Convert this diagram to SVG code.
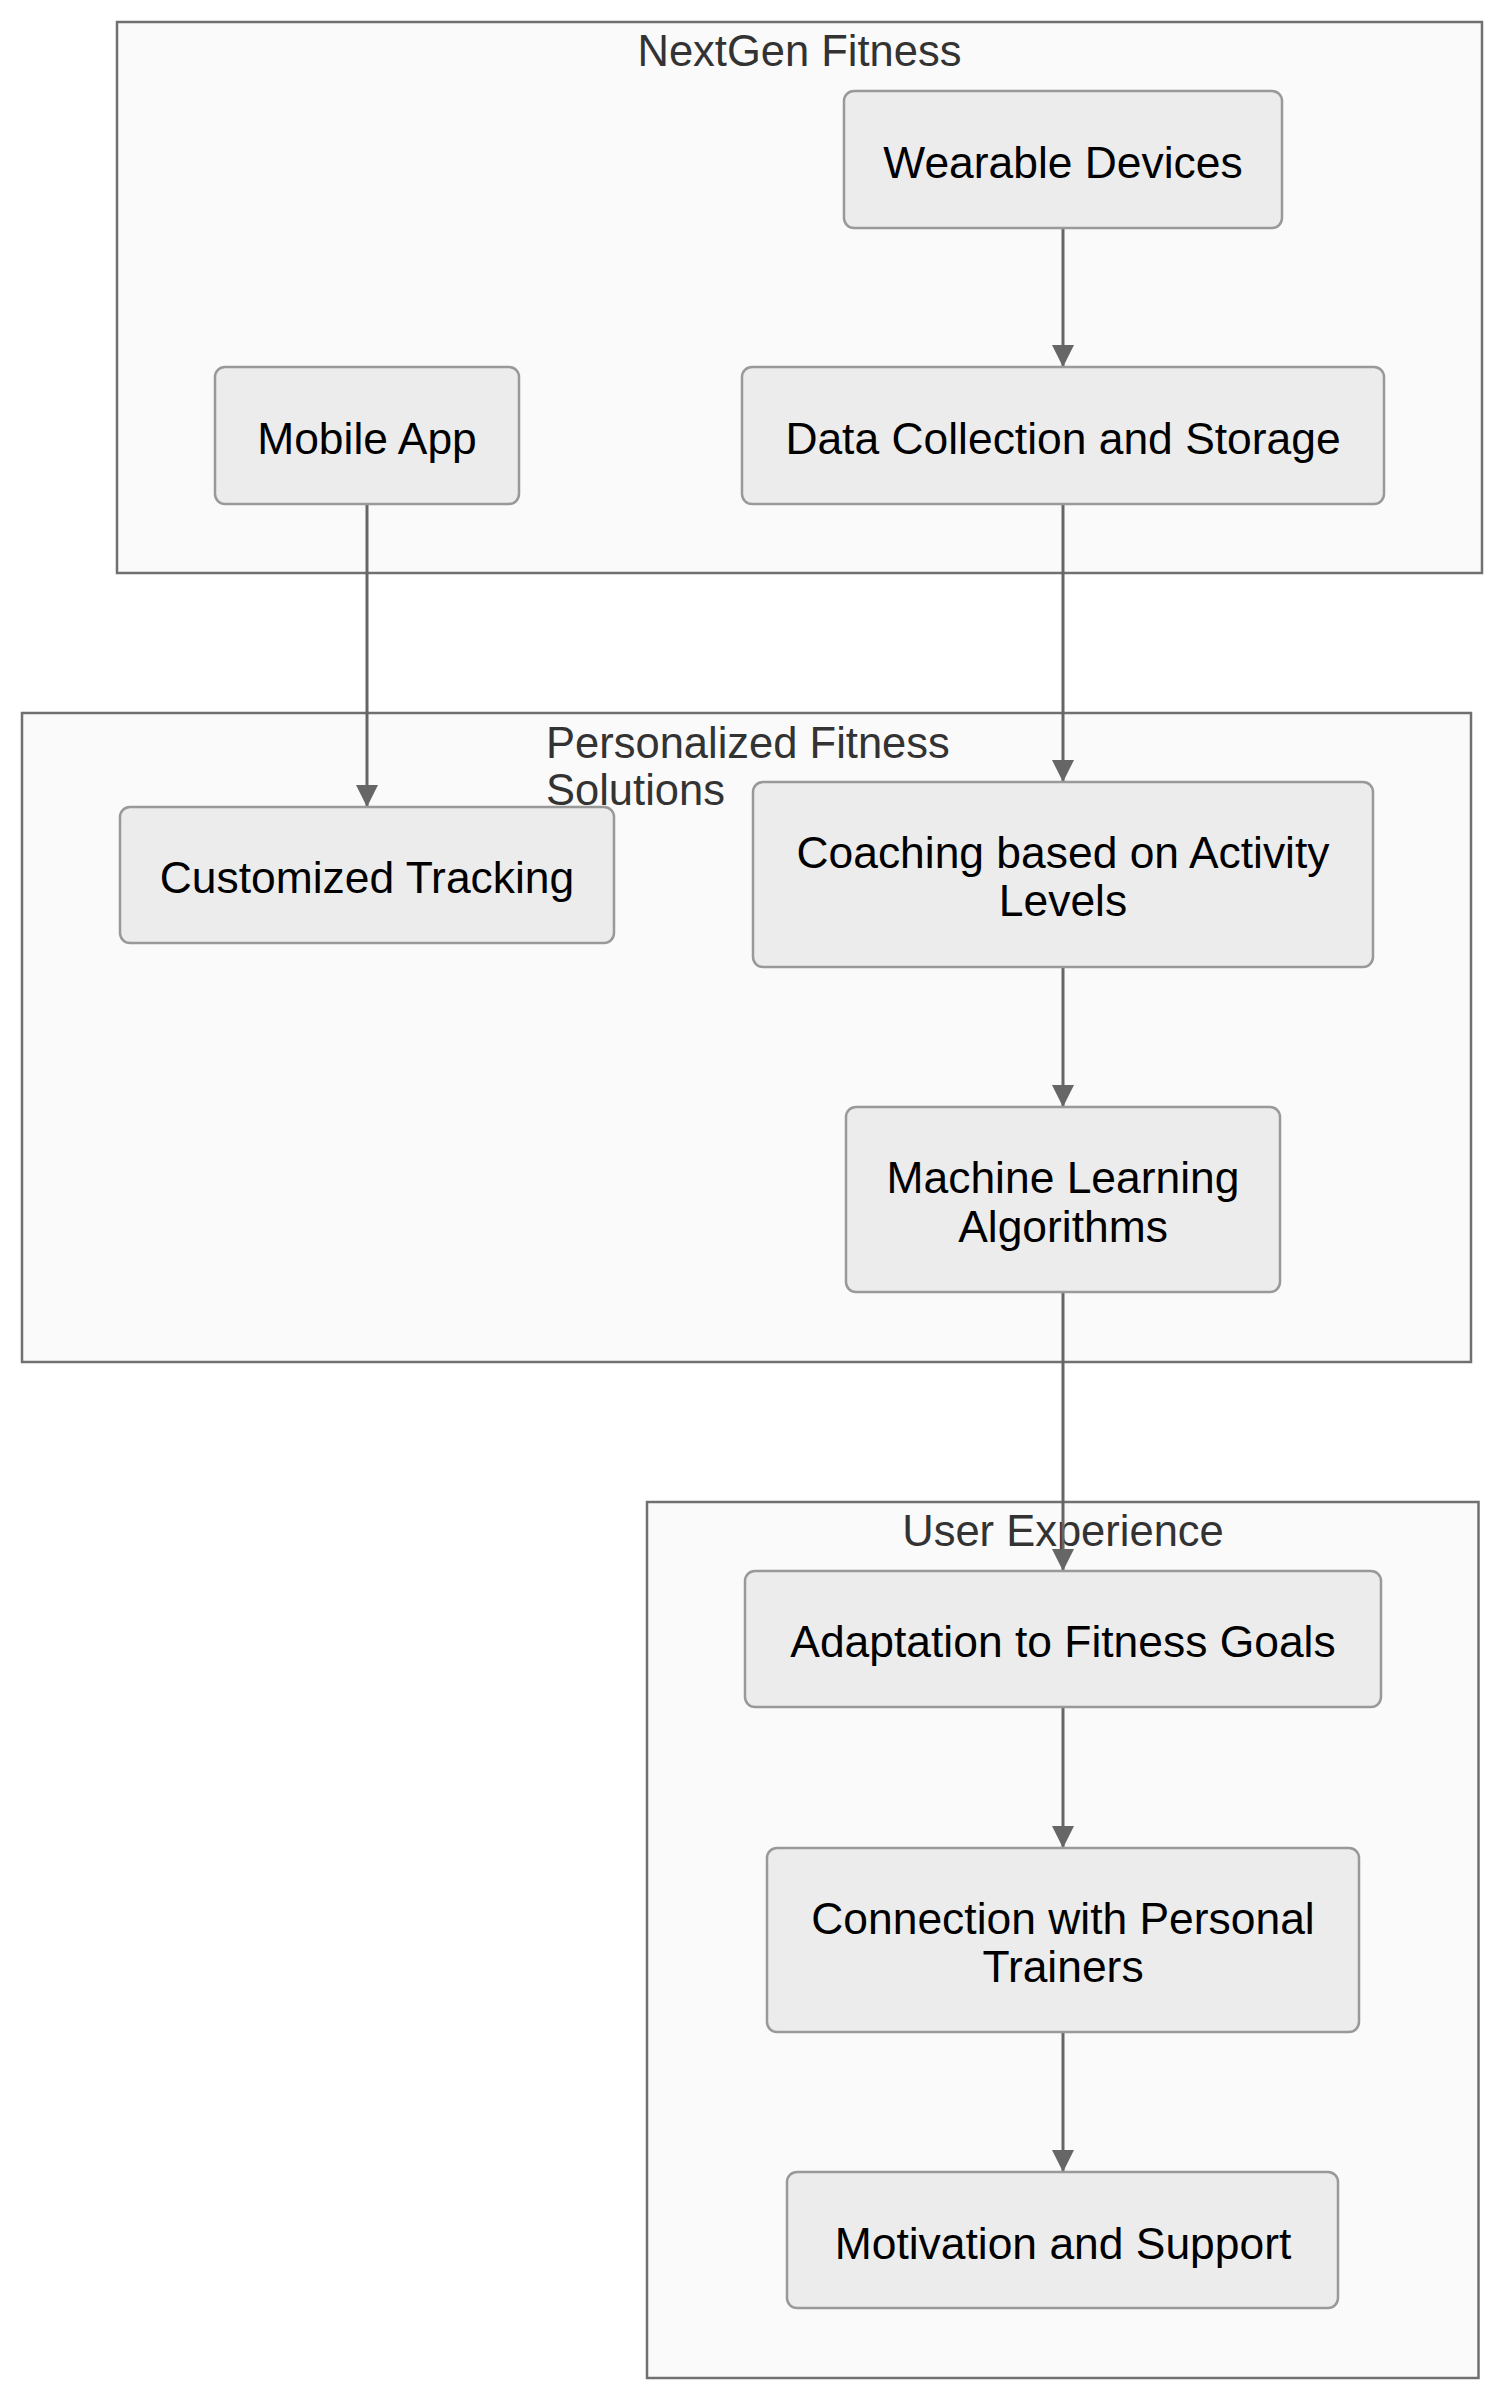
<svg xmlns="http://www.w3.org/2000/svg" width="1504" height="2400" viewBox="0 0 1504 2400">
<style>
.cluster rect{fill:#fafafa;stroke:#707070;stroke-width:2.5}
.ctitle{font-family:"Liberation Sans",Arial,sans-serif;font-size:43.5px;fill:#333}
.node rect{fill:#ececec;stroke:#999;stroke-width:2.5}
.node text{font-family:"Liberation Sans",Arial,sans-serif;font-size:44.4px;fill:#000;text-anchor:middle}
.edge{stroke:#666;stroke-width:3;fill:none}
</style>
<defs>
<marker id="arrow" markerUnits="userSpaceOnUse" viewBox="0 0 22 22" refX="22" refY="11" markerWidth="22" markerHeight="22" orient="auto">
<path d="M0,0 L22,11 L0,22 z" fill="#666"/>
</marker>
</defs>
<rect x="0" y="0" width="1504" height="2400" fill="#fff"/>
<g id="clusters">
<g id="cluster-nextgen" class="cluster">
<rect x="117" y="22" width="1365" height="551"/>
<text class="ctitle" x="799.5" y="66" text-anchor="middle">NextGen Fitness</text>
</g>
<g id="cluster-personalized" class="cluster">
<rect x="22" y="713" width="1449" height="649"/>
<text class="ctitle" x="546" y="758">Personalized Fitness</text>
<text class="ctitle" x="546" y="805">Solutions</text>
</g>
<g id="cluster-ux" class="cluster">
<rect x="647" y="1502" width="831.5" height="876"/>
<text class="ctitle" x="1063" y="1546" text-anchor="middle">User Experience</text>
</g>
</g>
<g id="connectors">
<line class="edge" x1="1063" y1="228" x2="1063" y2="367" marker-end="url(#arrow)"/>
<line class="edge" x1="367" y1="504" x2="367" y2="807" marker-end="url(#arrow)"/>
<line class="edge" x1="1063" y1="504" x2="1063" y2="782" marker-end="url(#arrow)"/>
<line class="edge" x1="1063" y1="967" x2="1063" y2="1107" marker-end="url(#arrow)"/>
<line class="edge" x1="1063" y1="1292" x2="1063" y2="1571" marker-end="url(#arrow)"/>
<line class="edge" x1="1063" y1="1707" x2="1063" y2="1848" marker-end="url(#arrow)"/>
<line class="edge" x1="1063" y1="2032" x2="1063" y2="2172" marker-end="url(#arrow)"/>
</g>
<g id="node-wearable" class="node">
<rect x="844" y="91" width="438" height="137" rx="10"/>
<text x="1063" y="177.5">Wearable Devices</text>
</g>
<g id="node-mobile" class="node">
<rect x="215" y="367" width="304" height="137" rx="10"/>
<text x="367" y="453.5">Mobile App</text>
</g>
<g id="node-data" class="node">
<rect x="742" y="367" width="642" height="137" rx="10"/>
<text x="1063" y="453.5">Data Collection and Storage</text>
</g>
<g id="node-tracking" class="node">
<rect x="120" y="807" width="494" height="136" rx="10"/>
<text x="367" y="893">Customized Tracking</text>
</g>
<g id="node-coaching" class="node">
<rect x="753" y="782" width="620" height="185" rx="10"/>
<text x="1063" y="868">Coaching based on Activity</text>
<text x="1063" y="916">Levels</text>
</g>
<g id="node-ml" class="node">
<rect x="846" y="1107" width="434" height="185" rx="10"/>
<text x="1063" y="1193">Machine Learning</text>
<text x="1063" y="1241.5">Algorithms</text>
</g>
<g id="node-adaptation" class="node">
<rect x="745" y="1571" width="636" height="136" rx="10"/>
<text x="1063" y="1657">Adaptation to Fitness Goals</text>
</g>
<g id="node-connection" class="node">
<rect x="767" y="1848" width="592" height="184" rx="10"/>
<text x="1063" y="1934">Connection with Personal</text>
<text x="1063" y="1982">Trainers</text>
</g>
<g id="node-motivation" class="node">
<rect x="787" y="2172" width="551" height="136" rx="10"/>
<text x="1063" y="2258.5">Motivation and Support</text>
</g>
</svg>
